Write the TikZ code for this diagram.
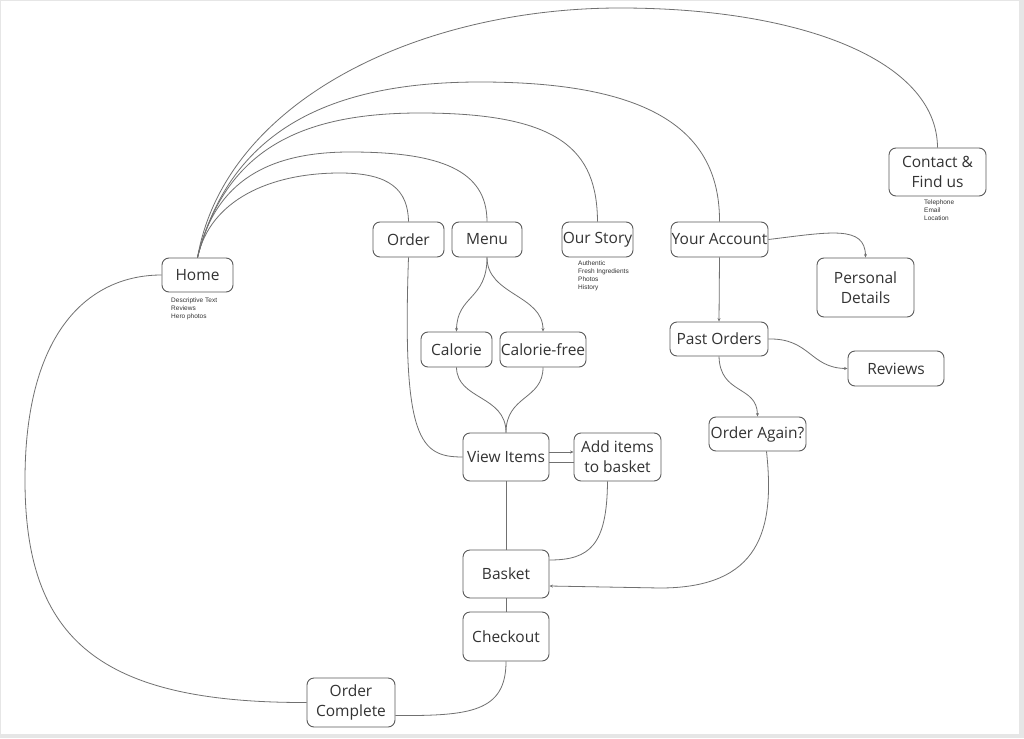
\documentclass[tikz,border=0pt]{standalone}
\usepackage{fontspec}
\setmainfont{Open Sans}
\newfontfamily\smallfont{Liberation Sans}
\usetikzlibrary{arrows.meta}
\definecolor{boxc}{HTML}{5A5A5A}
\definecolor{linec}{HTML}{707070}
\definecolor{textc}{HTML}{333333}
\definecolor{framec}{HTML}{E6E6E6}
\tikzset{
  box/.style={draw=boxc, rounded corners=7pt, line width=0.9pt, fill=white, text=textc,
    font=\fontsize{15.5}{20}\selectfont, inner sep=0pt, align=center},
  link/.style={draw=linec, line width=0.8pt},
  arr/.style={-{Stealth[length=3.5pt,width=3pt]}},
  small/.style={font=\smallfont\fontsize{6.5}{7.8}\selectfont, align=left, inner sep=0pt, text=textc, anchor=north west}
}
\begin{document}
\begin{tikzpicture}[x=1pt,y=-1pt]
\useasboundingbox (0,0) rectangle (1024,738);
\fill[framec] (0,0) rectangle (1024,738);
\fill[white] (1,1.5) rectangle (1019,734);

% nodes
\node[box, minimum width=71pt, minimum height=34pt] (home) at (197.5,275) {Home};
\node[box, minimum width=71pt, minimum height=35pt] (order) at (408.5,239.5) {Order};
\node[box, minimum width=70pt, minimum height=35pt] (menu) at (487,239.5) {Menu};
\node[box, minimum width=71pt, minimum height=35pt] (story) at (597.5,239.5) {Our Story};
\node[box, minimum width=97pt, minimum height=35pt] (account) at (719.5,239.5) {Your Account};
\node[box, minimum width=97pt, minimum height=48pt] (contact) at (937.5,172) {Contact \&\\Find us};
\node[box, minimum width=97pt, minimum height=59pt] (personal) at (865.5,287.5) {Personal\\Details};
\node[box, minimum width=71pt, minimum height=35pt] (calorie) at (456.5,349.5) {Calorie};
\node[box, minimum width=86pt, minimum height=35pt] (calfree) at (543,349.5) {Calorie-free};
\node[box, minimum width=98pt, minimum height=34pt] (past) at (719,339) {Past Orders};
\node[box, minimum width=96pt, minimum height=35pt] (reviews) at (896,368.5) {Reviews};
\node[box, minimum width=97pt, minimum height=34pt] (again) at (757.5,434) {Order Again?};
\node[box, minimum width=86pt, minimum height=48pt] (view) at (506,457) {View Items};
\node[box, minimum width=87pt, minimum height=48pt] (add) at (617.5,457) {Add items\\to basket};
\node[box, minimum width=86pt, minimum height=48pt] (basket) at (506,574) {Basket};
\node[box, minimum width=86pt, minimum height=49pt] (checkout) at (506,636.5) {Checkout};
\node[box, minimum width=88pt, minimum height=49pt] (complete) at (351,702.5) {Order\\Complete};

% notes
\node[small] (hometext) at (171,298) {Descriptive Text\\Reviews\\Hero photos};
\node[small] (storytext) at (578,261) {Authentic\\Fresh Ingredients\\Photos\\History};
\node[small] (contacttext) at (924,200) {Telephone\\Email\\Location};

% connectors from Home
\draw[link] (home.north) .. controls (225,100) and (420,8) .. (620,8)
  .. controls (800,8) and (937,60) .. (contact.north);
\draw[link] (home.north) .. controls (230,130) and (330,82) .. (480,82)
  .. controls (650,82) and (720,130) .. (account.north);
\draw[link] (home.north) .. controls (225,150) and (300,113) .. (420,113)
  .. controls (560,113) and (597,150) .. (story.north);
\draw[link] (home.north) .. controls (215,180) and (270,152) .. (350,152)
  .. controls (440,152) and (487,170) .. (menu.north);
\draw[link] (home.north) .. controls (210,200) and (270,173) .. (340,173)
  .. controls (390,173) and (408,190) .. (order.north);

% Order complete back to Home
\draw[link] (complete.west) .. controls (100,703) and (25,640) .. (25,480)
  .. controls (25,330) and (90,275) .. (home.west);

% menu branch
\draw[link] (order.south) .. controls (402,440) and (420,457) .. (view.west);
\draw[link,arr] (menu.south) .. controls (487,300) and (457,295) .. (calorie.north);
\draw[link,arr] (menu.south) .. controls (487,295) and (543,295) .. (calfree.north);
\draw[link] (calorie.south) .. controls (457,400) and (506,395) .. (view.north);
\draw[link] (calfree.south) .. controls (543,400) and (506,395) .. (view.north);

\draw[link,arr] ([yshift=5pt]view.east) -- ([yshift=5pt]add.west);
\draw[link] ([yshift=-5pt]add.west) -- ([yshift=-5pt]view.east);
\draw[link] (view.south) -- (basket.north);
\draw[link] ([xshift=-10pt]add.south) .. controls (607,545) and (590,560) .. ([yshift=14pt]basket.east);
\draw[link] (basket.south) -- (checkout.north);
\draw[link] (checkout.south) .. controls (506,712) and (470,716) .. ([yshift=-13pt]complete.east);

% account branch
\draw[link,arr] (account.south) -- (past.north);
\draw[link,arr] (account.east) .. controls (830,232) and (865,225) .. (personal.north);
\draw[link,arr] (past.east) .. controls (810,338) and (810,368) .. (reviews.west);
\draw[link,arr] (past.south) .. controls (720,395) and (757,385) .. (again.north);
\draw[link,arr] ([xshift=9pt]again.south) .. controls (775,530) and (760,588) .. (660,588)
  -- ([yshift=-12pt]basket.east);
\end{tikzpicture}
\end{document}
